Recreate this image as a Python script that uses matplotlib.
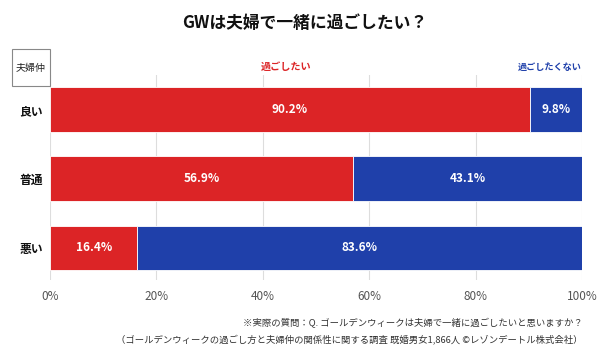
"""GWは夫婦で一緒に過ごしたい？ - 100% stacked horizontal bars"""

import matplotlib.pyplot as plt
from matplotlib.patches import Rectangle

plt.rcParams['font.family'] = ['Noto Sans CJK JP', 'DejaVu Sans']

# Data
categories = ['良い', '普通', '悪い']
want = [90.2, 56.9, 16.4]       # 過ごしたい
not_want = [9.8, 43.1, 83.6]    # 過ごしたくない
xticks = [0, 20, 40, 60, 80, 100]
xtick_labels = ['0%', '20%', '40%', '60%', '80%', '100%']

red = '#DC2426'
blue = '#1F40AA'

fig = plt.figure(figsize=(5.99, 3.55), dpi=100)
ax = fig.add_axes([0.0835, 0.211, 0.8885, 0.578])

y = list(range(len(categories)))
ax.barh(y, want, height=0.65, color=red, edgecolor='white', linewidth=0.6)
ax.barh(y, not_want, left=want, height=0.65, color=blue, edgecolor='white', linewidth=0.6)

# Value labels inside the bars
for i in y:
    ax.text(want[i] / 2, i, f'{want[i]:.1f}%', ha='center', va='center',
            color='white', fontsize=8.5, fontweight='bold')
    ax.text(want[i] + not_want[i] / 2, i, f'{not_want[i]:.1f}%', ha='center', va='center',
            color='white', fontsize=8.5, fontweight='bold')

ax.set_xlim(0, 100)
ax.set_ylim(2.465, -0.505)
ax.set_xticks(xticks)
ax.set_xticklabels(xtick_labels, fontsize=8.5, color='#555555')
ax.set_yticks(y)
ax.set_yticklabels(categories, fontsize=8.5, fontweight='bold', color='#111111')
ax.tick_params(axis='both', length=0, pad=7)
ax.tick_params(axis='y', pad=5)
ax.grid(axis='x', color='#dddddd', linewidth=0.8)
ax.set_axisbelow(True)
for s in ax.spines.values():
    s.set_visible(False)

# Title
fig.text(0.509, 0.935, 'GWは夫婦で一緒に過ごしたい？', ha='center', va='center',
         fontsize=12.1, fontweight='bold', color='#111111')

# Column headers
fig.text(0.478, 0.811, '過ごしたい', ha='center', va='center',
         fontsize=7.3, fontweight='bold', color=red)
fig.text(0.9716, 0.811, '過ごしたくない', ha='right', va='center',
         fontsize=6.6, fontweight='bold', color=blue)

# Boxed row header
fig.patches.append(Rectangle((12 / 599, 1 - 86 / 355), 38 / 599, 37 / 355,
                             transform=fig.transFigure, fill=False,
                             edgecolor='#888888', linewidth=0.8))
fig.text(31 / 599, 1 - 67.5 / 355, '夫婦仲', ha='center', va='center',
         fontsize=7.2, color='#222222')

# Footnote
fig.text(0.973, 0.09, '※実際の質問：Q. ゴールデンウィークは夫婦で一緒に過ごしたいと思いますか？',
         ha='right', va='center', fontsize=6.75, color='#333333')
fig.text(0.973, 0.042, '（ゴールデンウィークの過ごし方と夫婦仲の関係性に関する調査 既婚男女1,866人 ©レゾンデートル株式会社）',
         ha='right', va='center', fontsize=6.75, color='#333333')

fig.savefig('out.png', dpi=100)
